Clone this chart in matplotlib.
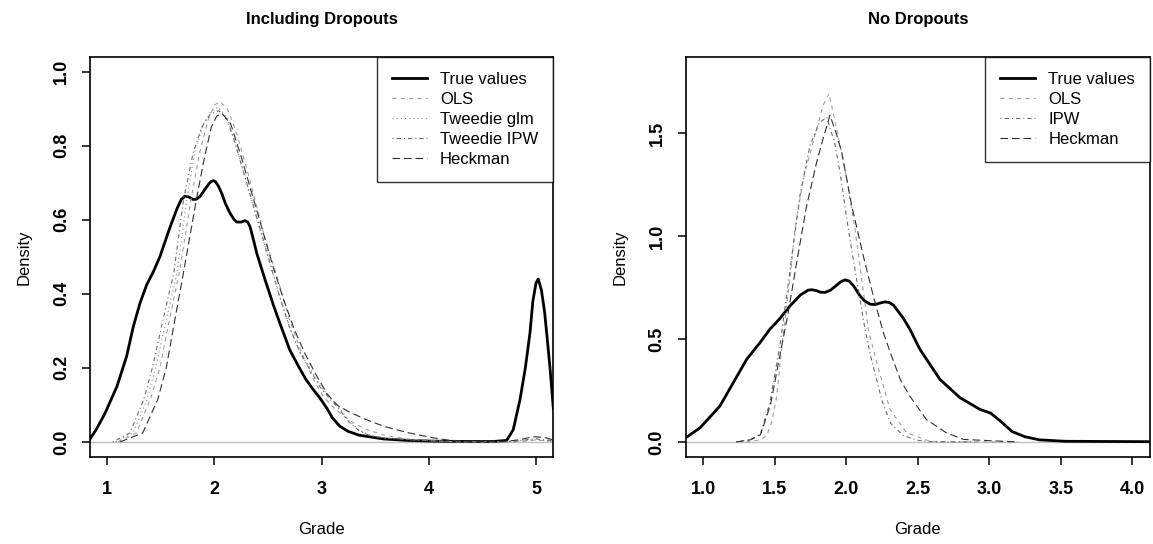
import matplotlib
matplotlib.use("Agg")
import matplotlib.pyplot as plt

plt.rcParams['font.family'] = ['Liberation Sans', 'DejaVu Sans']
plt.rcParams['lines.scale_dashes'] = False

# ---- left panel: Including Dropouts ----
true_x_l = [0.839, 0.90, 0.98, 1.09, 1.18, 1.243, 1.305, 1.368, 1.43, 1.49, 1.585, 1.65, 1.69, 1.725, 1.76,
            1.80, 1.834, 1.87, 1.90, 1.95, 1.97, 1.989, 2.01, 2.035, 2.067, 2.10, 2.145, 2.18, 2.207, 2.25,
            2.285, 2.31, 2.331, 2.36, 2.394, 2.472, 2.549, 2.611, 2.70, 2.767, 2.85, 2.922, 2.985, 3.05, 3.10,
            3.17, 3.25, 3.35, 3.575, 3.8, 4.04, 4.4, 4.6, 4.726, 4.787, 4.85, 4.90, 4.943, 4.97, 5.0, 5.02,
            5.05, 5.08, 5.099, 5.13, 5.161]
true_y_l = [0.008, 0.035, 0.078, 0.15, 0.231, 0.312, 0.375, 0.425, 0.46, 0.50, 0.58, 0.63, 0.655, 0.664,
            0.662, 0.655, 0.656, 0.665, 0.678, 0.698, 0.704, 0.706, 0.703, 0.692, 0.672, 0.645, 0.618, 0.602,
            0.594, 0.594, 0.598, 0.594, 0.582, 0.55, 0.51, 0.438, 0.37, 0.32, 0.25, 0.213, 0.17, 0.141, 0.118,
            0.09, 0.065, 0.042, 0.028, 0.018, 0.008, 0.004, 0.002, 0.001, 0.001, 0.004, 0.033, 0.114, 0.20,
            0.294, 0.38, 0.43, 0.44, 0.41, 0.35, 0.294, 0.20, 0.09]

ipw_x_l = [1.05, 1.21, 1.34, 1.42, 1.52, 1.62, 1.71, 1.80, 1.88, 1.96, 2.04, 2.12, 2.20, 2.30, 2.40, 2.50,
           2.60, 2.70, 2.80, 2.88, 2.98, 3.08, 3.16, 3.25, 3.35, 3.45, 3.6, 3.8, 4.0, 4.2, 4.7, 4.85, 5.0, 5.161]
ipw_y_l = [0.0, 0.024, 0.114, 0.2, 0.33, 0.456, 0.653, 0.78, 0.85, 0.885, 0.895, 0.87, 0.80, 0.70, 0.60, 0.50,
           0.40, 0.31, 0.24, 0.20, 0.15, 0.115, 0.09, 0.055, 0.03, 0.017, 0.01, 0.006, 0.003, 0.001, 0.0, 0.004,
           0.008, 0.003]

glm_x_l = [1.08, 1.24, 1.37, 1.45, 1.55, 1.65, 1.74, 1.82, 1.90, 1.97, 2.03, 2.11, 2.19, 2.29, 2.39, 2.49,
           2.60, 2.70, 2.80, 2.89, 2.99, 3.09, 3.17, 3.26, 3.36, 3.46, 3.6, 3.8, 4.0, 4.2, 4.7, 4.85, 5.0, 5.161]
glm_y_l = [0.0, 0.024, 0.114, 0.2, 0.33, 0.456, 0.653, 0.79, 0.86, 0.895, 0.905, 0.88, 0.81, 0.71, 0.61, 0.51,
           0.40, 0.31, 0.24, 0.20, 0.15, 0.115, 0.09, 0.055, 0.03, 0.017, 0.01, 0.006, 0.003, 0.001, 0.0, 0.003,
           0.006, 0.002]

ols_x_l = [1.10, 1.27, 1.40, 1.49, 1.58, 1.67, 1.78, 1.86, 1.94, 2.0, 2.05, 2.12, 2.20, 2.30, 2.39, 2.48,
           2.58, 2.70, 2.80, 2.92, 3.02, 3.12, 3.25, 3.4, 3.6, 3.8, 4.0, 4.3, 4.8, 5.0, 5.161]
ols_y_l = [0.0, 0.024, 0.114, 0.2, 0.33, 0.456, 0.653, 0.78, 0.87, 0.91, 0.92, 0.90, 0.84, 0.74, 0.64, 0.54,
           0.45, 0.33, 0.25, 0.17, 0.12, 0.09, 0.06, 0.035, 0.017, 0.008, 0.003, 0.0, 0.0, 0.005, 0.002]

heck_x_l = [1.12, 1.33, 1.47, 1.55, 1.63, 1.71, 1.83, 1.90, 1.97, 2.02, 2.07, 2.15, 2.25, 2.35, 2.45, 2.55,
            2.65, 2.75, 2.85, 2.95, 3.05, 3.15, 3.25, 3.4, 3.58, 3.8, 4.04, 4.2, 4.4, 4.7, 4.85, 4.97, 5.08, 5.161]
heck_y_l = [0.0, 0.024, 0.114, 0.2, 0.33, 0.456, 0.653, 0.76, 0.85, 0.88, 0.888, 0.86, 0.77, 0.67, 0.57, 0.47,
            0.38, 0.30, 0.235, 0.18, 0.13, 0.098, 0.082, 0.062, 0.042, 0.025, 0.011, 0.004, 0.001, 0.001, 0.006,
            0.014, 0.012, 0.005]

# ---- right panel: No Dropouts ----
true_x_r = [0.877, 0.977, 1.116, 1.21, 1.303, 1.397, 1.466, 1.536, 1.606, 1.68, 1.734, 1.76, 1.79, 1.82,
            1.851, 1.89, 1.92, 1.96, 1.991, 2.02, 2.05, 2.096, 2.13, 2.166, 2.20, 2.24, 2.27, 2.30, 2.33,
            2.352, 2.40, 2.445, 2.515, 2.655, 2.795, 2.935, 3.009, 3.08, 3.16, 3.25, 3.35, 3.53, 3.8, 4.124]
true_y_r = [0.02, 0.068, 0.174, 0.288, 0.401, 0.483, 0.548, 0.60, 0.661, 0.715, 0.738, 0.74, 0.736, 0.728,
            0.727, 0.738, 0.755, 0.778, 0.788, 0.782, 0.76, 0.71, 0.685, 0.67, 0.668, 0.676, 0.681, 0.678,
            0.665, 0.645, 0.60, 0.548, 0.45, 0.304, 0.215, 0.158, 0.14, 0.10, 0.05, 0.025, 0.01, 0.003, 0.002,
            0.001]

ols_x_r = [1.30, 1.40, 1.443, 1.48, 1.513, 1.54, 1.56, 1.606, 1.641, 1.70, 1.793, 1.84, 1.879, 1.933, 2.003,
           2.061, 2.108, 2.154, 2.213, 2.306, 2.422, 2.585, 2.8, 3.2]
ols_y_r = [0.0, 0.01, 0.03, 0.10, 0.22, 0.40, 0.53, 0.79, 1.036, 1.28, 1.523, 1.64, 1.694, 1.523, 1.28,
           1.036, 0.792, 0.548, 0.385, 0.158, 0.044, 0.003, 0.0, 0.0]

ipw_x_r = [1.23, 1.33, 1.40, 1.466, 1.536, 1.583, 1.629, 1.676, 1.746, 1.81, 1.863, 1.92, 1.956, 2.014,
           2.072, 2.131, 2.17, 2.25, 2.31, 2.40, 2.50, 2.60, 2.9]
ipw_y_r = [0.0, 0.01, 0.04, 0.19, 0.47, 0.71, 0.954, 1.198, 1.442, 1.55, 1.58, 1.45, 1.312, 1.036,
           0.792, 0.548, 0.418, 0.20, 0.09, 0.03, 0.008, 0.0, 0.0]

heck_x_r = [1.23, 1.33, 1.40, 1.47, 1.53, 1.594, 1.653, 1.723, 1.793, 1.84, 1.886, 1.93, 1.968, 2.038,
            2.119, 2.189, 2.259, 2.31, 2.38, 2.445, 2.56, 2.70, 2.82, 3.0, 3.2]
heck_y_r = [0.0, 0.01, 0.035, 0.18, 0.40, 0.629, 0.873, 1.149, 1.361, 1.48, 1.589, 1.50, 1.41, 1.149,
            0.905, 0.71, 0.532, 0.43, 0.30, 0.222, 0.109, 0.044, 0.012, 0.006, 0.0]

left_labels = ["True values", "OLS", "Tweedie glm", "Tweedie IPW", "Heckman"]
right_labels = ["True values", "OLS", "IPW", "Heckman"]

# line styles (R lty 1, 2, 3, 4, 5 in greys)
st_true = dict(color="black", lw=2.0, linestyle="-")
st_ols = dict(color="#a0a0a0", lw=0.8, linestyle=(0, (3, 3)))
st_glm = dict(color="#8c8c8c", lw=0.8, linestyle=(0, (0.8, 2.2)))
st_ipw = dict(color="#6a6a6a", lw=0.8, linestyle=(0, (0.8, 2.2, 3, 2.2)))
st_heck = dict(color="#303030", lw=0.8, linestyle=(0, (5.5, 2.8)))

fig = plt.figure(figsize=(11.53, 5.44), dpi=100)
ax1 = fig.add_axes([0.0781, 0.1605, 0.4018, 0.7347])
ax2 = fig.add_axes([0.5947, 0.1605, 0.4027, 0.7347])


def style_axes(ax, xlim, ylim, xticks, xticklabels, yticks, yticklabels, title):
    ax.axhline(0, color="#bebebe", lw=1.0, zorder=0)
    ax.set_xlim(*xlim)
    ax.set_ylim(*ylim)
    ax.set_xticks(xticks)
    ax.set_xticklabels(xticklabels, fontweight="bold", fontsize=13)
    ax.set_yticks(yticks)
    ax.set_yticklabels(yticklabels, fontweight="bold", fontsize=13, rotation=90, va="center")
    ax.tick_params(axis="both", direction="out", length=5.5, width=1.1, color="black")
    ax.tick_params(axis="x", pad=12)
    ax.tick_params(axis="y", pad=9)
    for sp in ax.spines.values():
        sp.set_linewidth(1.2)
    ax.set_xlabel("Grade", fontsize=12, labelpad=17)
    ax.set_ylabel("Density", fontsize=12, labelpad=15)
    ax.set_title(title, fontsize=12, fontweight="bold", pad=24)


l1, = ax1.plot(true_x_l, true_y_l, **st_true)
l2, = ax1.plot(ols_x_l, ols_y_l, **st_ols)
l3, = ax1.plot(glm_x_l, glm_y_l, **st_glm)
l4, = ax1.plot(ipw_x_l, ipw_y_l, **st_ipw)
l5, = ax1.plot(heck_x_l, heck_y_l, **st_heck)
style_axes(ax1, (0.839, 5.161), (-0.04, 1.04), [1, 2, 3, 4, 5], ["1", "2", "3", "4", "5"],
           [0, 0.2, 0.4, 0.6, 0.8, 1.0], ["0.0", "0.2", "0.4", "0.6", "0.8", "1.0"], "Including Dropouts")
leg1 = ax1.legend([l1, l2, l3, l4, l5], left_labels, loc="upper right", fontsize=12,
                  frameon=True, fancybox=False, edgecolor="black", borderaxespad=0,
                  borderpad=0.9, labelspacing=0.3, handlelength=2.1, handletextpad=0.8)
leg1.get_frame().set_linewidth(1.0)

r1, = ax2.plot(true_x_r, true_y_r, **st_true)
r2, = ax2.plot(ols_x_r, ols_y_r, **st_ols)
r3, = ax2.plot(ipw_x_r, ipw_y_r, **st_ipw)
r4, = ax2.plot(heck_x_r, heck_y_r, **st_heck)
style_axes(ax2, (0.877, 4.124), (-0.072, 1.872), [1.0, 1.5, 2.0, 2.5, 3.0, 3.5, 4.0],
           ["1.0", "1.5", "2.0", "2.5", "3.0", "3.5", "4.0"],
           [0, 0.5, 1.0, 1.5], ["0.0", "0.5", "1.0", "1.5"], "No Dropouts")
leg2 = ax2.legend([r1, r2, r3, r4], right_labels, loc="upper right", fontsize=12,
                  frameon=True, fancybox=False, edgecolor="black", borderaxespad=0,
                  borderpad=0.9, labelspacing=0.3, handlelength=2.1, handletextpad=0.8)
leg2.get_frame().set_linewidth(1.0)

fig.savefig("out.png", dpi=100)
